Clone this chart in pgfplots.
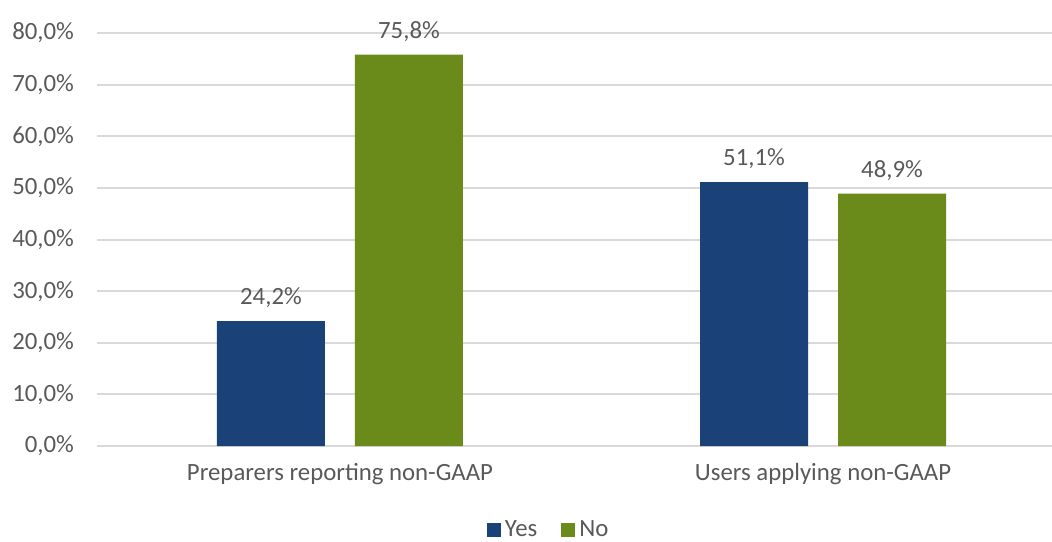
\documentclass[border=0pt]{standalone}
\usepackage{pgfplots}
\pgfplotsset{compat=1.18}
\usepackage{fontspec}
\setmainfont{Carlito}
\definecolor{barblue}{RGB}{26,65,120}
\definecolor{bargreen}{RGB}{106,139,26}
\definecolor{txtgray}{RGB}{89,89,89}
\definecolor{gridgray}{RGB}{217,217,217}
\begin{document}
\begin{tikzpicture}
\useasboundingbox (0,0) rectangle (526pt,270.5pt);
\begin{axis}[
  at={(48.5pt,47.5pt)}, anchor=south west,
  scale only axis, width=477.5pt, height=206.5pt,
  xmin=-0.503, xmax=1.474, ymin=0, ymax=80,
  ytick={0,10,...,80},
  xtick={0,1},
  xticklabels={Preparers reporting non-GAAP, Users applying non-GAAP},
  axis x line*=bottom, axis y line*=left,
  x axis line style={gridgray, line width=1pt, -},
  y axis line style={draw=none},
  ymajorgrids, grid style={gridgray, line width=1pt},
  major tick length=0pt,
  font=\fontsize{12.4pt}{14pt}\selectfont,
  every tick label/.append style={txtgray},
  /pgf/number format/assume math mode=true,
  yticklabel={\pgfmathprintnumber[fixed,fixed zerofill,precision=1,use comma]{\tick}\%},
  yticklabel style={xshift=-8pt},
  xticklabel style={yshift=-5pt},
  ybar, bar width=54pt,
  nodes near coords={\pgfmathprintnumber[fixed,fixed zerofill,precision=1,use comma,assume math mode=true]{\pgfplotspointmeta}\%},
  nodes near coords style={txtgray, yshift=3pt},
  legend style={at={(0.474,-0.203)}, anchor=center, draw=none, legend columns=2,
    font=\fontsize{12.4pt}{14pt}\selectfont\color{txtgray},
    /tikz/every even column/.append style={column sep=10pt}},
  legend image code/.code={\fill[#1] (0pt,-3.5pt) rectangle (7pt,3.5pt);},
  clip=false,
]
\addplot[fill=barblue, draw=none, bar shift=-34.5pt] coordinates {(0,24.2) (1,51.1)};
\addplot[fill=bargreen, draw=none, bar shift=34.5pt] coordinates {(0,75.8) (1,48.9)};
\legend{Yes, No}
\end{axis}
\end{tikzpicture}
\end{document}
